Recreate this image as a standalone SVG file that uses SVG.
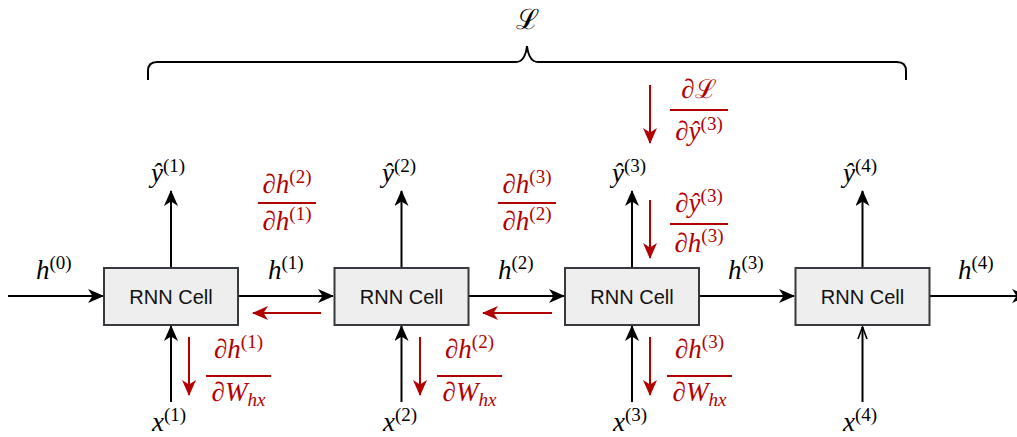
<svg xmlns="http://www.w3.org/2000/svg" width="1017" height="437" viewBox="0 0 1017 437">
<style>
.box{fill:#eeeeee;stroke:#36393d;stroke-width:2}
.lbl{font-family:"Liberation Sans",Arial,sans-serif;font-size:20px;fill:#111;text-anchor:middle}
.m{font-family:"Liberation Serif","Times New Roman",serif;font-size:27px;font-style:italic;fill:#000}
.r{fill:#b20000}
.sup{font-size:19px;font-style:normal}
.up{font-style:normal}
.blk{stroke:#000;stroke-width:2;fill:none}
.red{stroke:#b20000;stroke-width:2;fill:none}
.bar{stroke:#b20000;stroke-width:2}
</style>
<defs>
<marker id="ab" viewBox="0 0 16 14" refX="15" refY="7" markerWidth="16" markerHeight="14" markerUnits="userSpaceOnUse" orient="auto"><path d="M0,0 L16,7 L0,14 L4.5,7 z" fill="#000"/></marker>
<marker id="ar" viewBox="0 0 16 14" refX="15" refY="7" markerWidth="16" markerHeight="14" markerUnits="userSpaceOnUse" orient="auto"><path d="M0,0 L16,7 L0,14 L4.5,7 z" fill="#b20000"/></marker>
<marker id="ao" viewBox="0 0 14 11" refX="13" refY="5.5" markerWidth="14" markerHeight="11" markerUnits="userSpaceOnUse" orient="auto"><path d="M1,1 L13,5.5 L1,10" fill="none" stroke="#000" stroke-width="1.6"/></marker>
</defs>

<g id="connectors">
<line class="blk" x1="8" y1="296" x2="103" y2="296" marker-end="url(#ab)"/>
<line class="blk" x1="239" y1="296" x2="333" y2="296" marker-end="url(#ab)"/>
<line class="blk" x1="469" y1="296" x2="564" y2="296" marker-end="url(#ab)"/>
<line class="blk" x1="700" y1="296" x2="794" y2="296" marker-end="url(#ab)"/>
<line class="blk" x1="930" y1="296" x2="1027" y2="296" marker-end="url(#ab)"/>
<line class="blk" x1="171" y1="268" x2="171" y2="191" marker-end="url(#ab)"/>
<line class="blk" x1="401.5" y1="268" x2="401.5" y2="191" marker-end="url(#ab)"/>
<line class="blk" x1="632" y1="268" x2="632" y2="191" marker-end="url(#ab)"/>
<line class="blk" x1="862.5" y1="268" x2="862.5" y2="191" marker-end="url(#ab)"/>
<line class="blk" x1="171" y1="402" x2="171" y2="326" marker-end="url(#ab)"/>
<line class="blk" x1="401.5" y1="402" x2="401.5" y2="326" marker-end="url(#ab)"/>
<line class="blk" x1="632" y1="402" x2="632" y2="326" marker-end="url(#ab)"/>
<line class="blk" x1="862.5" y1="402" x2="862.5" y2="327" marker-end="url(#ao)"/>
<line class="red" x1="321" y1="313" x2="253" y2="313" marker-end="url(#ar)"/>
<line class="red" x1="552" y1="313" x2="483" y2="313" marker-end="url(#ar)"/>
<line class="red" x1="650" y1="85" x2="650" y2="143" marker-end="url(#ar)"/>
<line class="red" x1="650" y1="200" x2="650" y2="258" marker-end="url(#ar)"/>
<line class="red" x1="189" y1="337" x2="189" y2="395" marker-end="url(#ar)"/>
<line class="red" x1="420" y1="337" x2="420" y2="395" marker-end="url(#ar)"/>
<line class="red" x1="650" y1="337" x2="650" y2="395" marker-end="url(#ar)"/>
</g>

<g id="brace">
<path class="blk" d="M148,80 L148,71 Q148,62 157,62 L516,62 Q525,62 527,46 Q529,62 538,62 L897,62 Q906,62 906,71 L906,80"/>
<text x="527" y="29" font-family="DejaVu Serif,serif" font-size="28" text-anchor="middle">ℒ</text>
</g>

<g id="cell1"><rect class="box" x="104" y="268" width="134" height="57"/><text class="lbl" x="171" y="304">RNN Cell</text></g>
<g id="cell2"><rect class="box" x="334.5" y="268" width="134" height="57"/><text class="lbl" x="401.5" y="304">RNN Cell</text></g>
<g id="cell3"><rect class="box" x="565" y="268" width="134" height="57"/><text class="lbl" x="632" y="304">RNN Cell</text></g>
<g id="cell4"><rect class="box" x="795.5" y="268" width="134" height="57"/><text class="lbl" x="862.5" y="304">RNN Cell</text></g>

<g id="hlabels">
<text class="m" x="36" y="279">h<tspan class="sup" dy="-10">(0)</tspan></text>
<text class="m" x="268" y="279">h<tspan class="sup" dy="-10">(1)</tspan></text>
<text class="m" x="498" y="279">h<tspan class="sup" dy="-10">(2)</tspan></text>
<text class="m" x="728" y="279">h<tspan class="sup" dy="-10">(3)</tspan></text>
<text class="m" x="958" y="279">h<tspan class="sup" dy="-10">(4)</tspan></text>
</g>
<g id="ylabels">
<text class="m" x="151" y="182">ŷ<tspan class="sup" dy="-10">(1)</tspan></text>
<text class="m" x="382" y="182">ŷ<tspan class="sup" dy="-10">(2)</tspan></text>
<text class="m" x="612" y="182">ŷ<tspan class="sup" dy="-10">(3)</tspan></text>
<text class="m" x="843" y="182">ŷ<tspan class="sup" dy="-10">(4)</tspan></text>
</g>
<g id="xlabels">
<text class="m" x="152" y="431">x<tspan class="sup" dy="-10">(1)</tspan></text>
<text class="m" x="383" y="431">x<tspan class="sup" dy="-10">(2)</tspan></text>
<text class="m" x="613" y="431">x<tspan class="sup" dy="-10">(3)</tspan></text>
<text class="m" x="843" y="431">x<tspan class="sup" dy="-10">(4)</tspan></text>
</g>

<g id="grad-h2h1">
<text class="m r" x="287" y="193" text-anchor="middle"><tspan class="up">∂</tspan>h<tspan class="sup" dy="-10">(2)</tspan></text>
<line class="bar" x1="258" y1="203" x2="316" y2="203"/>
<text class="m r" x="287" y="230" text-anchor="middle"><tspan class="up">∂</tspan>h<tspan class="sup" dy="-10">(1)</tspan></text>
</g>
<g id="grad-h3h2">
<text class="m r" x="527" y="193" text-anchor="middle"><tspan class="up">∂</tspan>h<tspan class="sup" dy="-10">(3)</tspan></text>
<line class="bar" x1="498" y1="203" x2="556" y2="203"/>
<text class="m r" x="527" y="230" text-anchor="middle"><tspan class="up">∂</tspan>h<tspan class="sup" dy="-10">(2)</tspan></text>
</g>
<g id="grad-Ly3">
<text class="m r" x="699" y="98" text-anchor="middle"><tspan class="up">∂</tspan><tspan class="up" font-family="DejaVu Serif,serif" font-size="26">ℒ</tspan></text>
<line class="bar" x1="670" y1="110" x2="728" y2="110"/>
<text class="m r" x="699" y="140" text-anchor="middle"><tspan class="up">∂</tspan>ŷ<tspan class="sup" dy="-10">(3)</tspan></text>
</g>
<g id="grad-y3h3">
<text class="m r" x="699" y="212" text-anchor="middle"><tspan class="up">∂</tspan>ŷ<tspan class="sup" dy="-10">(3)</tspan></text>
<line class="bar" x1="670" y1="224" x2="728" y2="224"/>
<text class="m r" x="699" y="252" text-anchor="middle"><tspan class="up">∂</tspan>h<tspan class="sup" dy="-10">(3)</tspan></text>
</g>
<g id="grad-h1W">
<text class="m r" x="238.5" y="358" text-anchor="middle"><tspan class="up">∂</tspan>h<tspan class="sup" dy="-10">(1)</tspan></text>
<line class="bar" x1="206" y1="376" x2="271" y2="376"/>
<text class="m r" x="238.5" y="401" text-anchor="middle"><tspan class="up">∂</tspan>W<tspan font-size="19" dy="5">hx</tspan></text>
</g>
<g id="grad-h2W">
<text class="m r" x="469.5" y="358" text-anchor="middle"><tspan class="up">∂</tspan>h<tspan class="sup" dy="-10">(2)</tspan></text>
<line class="bar" x1="437" y1="376" x2="502" y2="376"/>
<text class="m r" x="469.5" y="401" text-anchor="middle"><tspan class="up">∂</tspan>W<tspan font-size="19" dy="5">hx</tspan></text>
</g>
<g id="grad-h3W">
<text class="m r" x="699.5" y="358" text-anchor="middle"><tspan class="up">∂</tspan>h<tspan class="sup" dy="-10">(3)</tspan></text>
<line class="bar" x1="667" y1="376" x2="732" y2="376"/>
<text class="m r" x="699.5" y="401" text-anchor="middle"><tspan class="up">∂</tspan>W<tspan font-size="19" dy="5">hx</tspan></text>
</g>
</svg>
